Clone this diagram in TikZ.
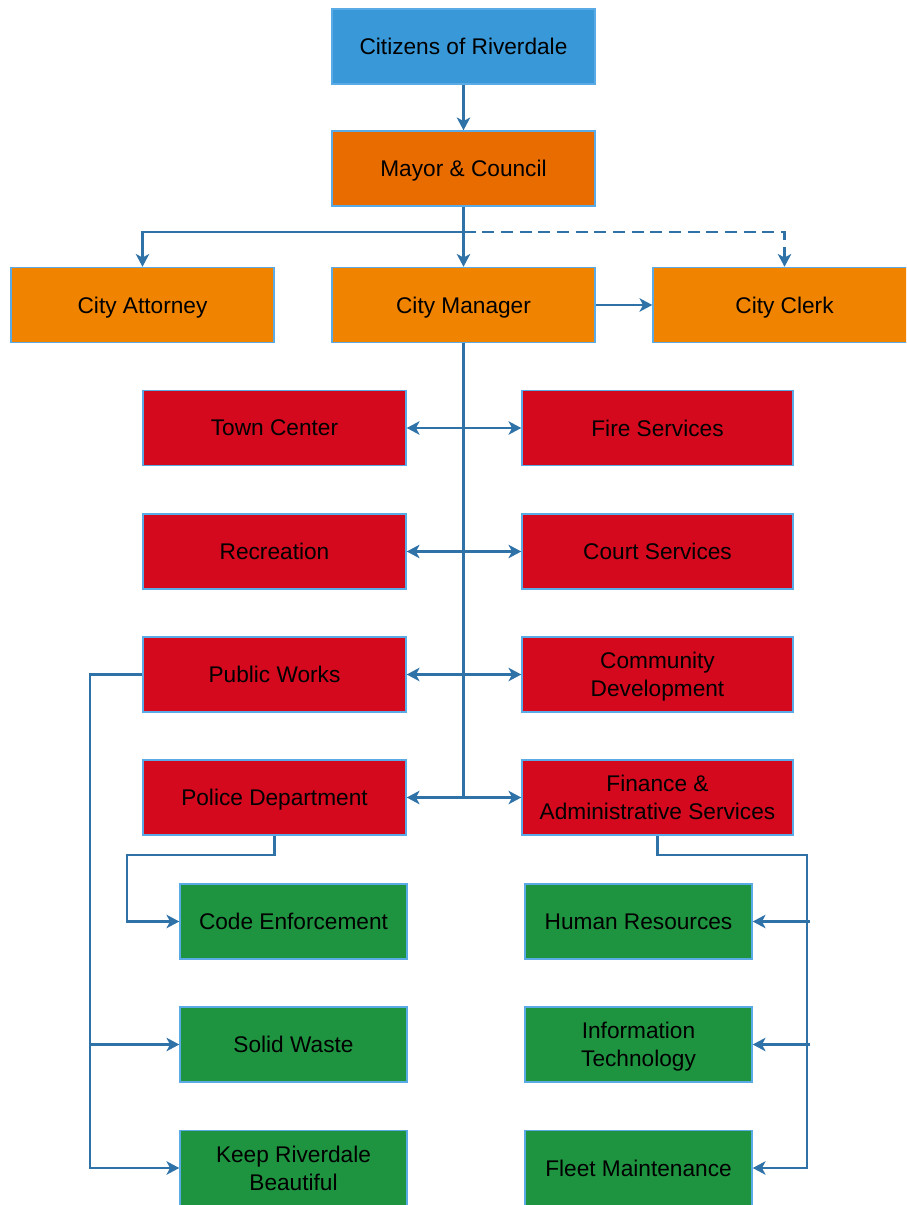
\documentclass[tikz,border=0pt]{standalone}
\usepackage{fontspec}
\setmainfont{Liberation Sans}
\usetikzlibrary{arrows.meta}
\definecolor{cblue}{HTML}{3898D8}
\definecolor{cmayor}{HTML}{E96C00}
\definecolor{corange}{HTML}{F08400}
\definecolor{cred}{HTML}{D5091E}
\definecolor{cgreen}{HTML}{1F9440}
\definecolor{cedge}{HTML}{5AAAE6}
\definecolor{cline}{HTML}{2E72A8}
\tikzset{
  box/.style={draw=cedge, line width=1.1pt, inner sep=0pt, align=center,
    font=\fontsize{17}{21}\selectfont, text=black, text depth=0pt},
  bx/.style={box, minimum width=197.25pt, minimum height=56.25pt},
  rbx/.style={box, minimum width=203.25pt, minimum height=56.25pt},
  gbx/.style={box, minimum width=170.25pt, minimum height=56.25pt, fill=cgreen},
  conn/.style={draw=cline, line width=1.6pt},
  arr/.style={conn, -{Stealth[length=9.5pt, width=10pt, inset=2.5pt]}},
}
\begin{document}
\begin{tikzpicture}[x=0.75pt, y=-0.75pt]
\useasboundingbox (0,0) rectangle (906,1205);
\clip (0,0) rectangle (906,1205);
% top
\node[bx, fill=cblue] (cz) at (463.5,46.5) {Citizens of Riverdale};
\node[bx, fill=cmayor] (mc) at (463.5,168.5) {Mayor \& Council};
\node[bx, fill=corange] (ca) at (142.5,305) {City Attorney};
\node[bx, fill=corange] (cm) at (463.5,305) {City Manager};
\node[bx, fill=corange] (cc) at (784.5,305) {City Clerk};
% red
\node[bx, fill=cred] (tc) at (274.5,428) {Town Center};
\node[rbx, fill=cred] (fs) at (657.5,428) {Fire Services};
\node[bx, fill=cred] (rc) at (274.5,551.5) {Recreation};
\node[rbx, fill=cred] (cs) at (657.5,551.5) {Court Services};
\node[bx, fill=cred] (pw) at (274.5,674.5) {Public Works};
\node[rbx, fill=cred] (cd) at (657.5,674.5) {Community\\Development};
\node[bx, fill=cred] (pd) at (274.5,797.5) {Police Department};
\node[rbx, fill=cred] (fa) at (657.5,797.5) {Finance \&\\Administrative Services};
% green
\node[gbx] (ce) at (293.5,921.5) {Code Enforcement};
\node[gbx] (sw) at (293.5,1044.5) {Solid Waste};
\node[gbx] (kr) at (293.5,1168) {Keep Riverdale\\Beautiful};
\node[gbx] (hr) at (638.5,921.5) {Human Resources};
\node[gbx] (it) at (638.5,1044.5) {Information\\Technology};
\node[gbx] (fm) at (638.5,1168) {Fleet Maintenance};
% coordinates
\coordinate (junc) at (463.5,232);
\coordinate (spine) at (463.5,798);
\coordinate (pl) at (90,675);
\coordinate (pdl) at (127,855);
\coordinate (fr) at (807,855);
\coordinate (fr2) at (810,855);
% connectors top
\draw[arr] (cz.south) -- (mc.north);
\draw[arr] (mc.south) -- (cm.north);
\draw[arr] (junc) -| (ca.north);
\draw[arr, dashed, dash pattern=on 9pt off 5pt] (junc) -| (cc.north);
\draw[arr] (cm.east) -- (cc.west);
% spine
\draw[conn] (cm.south) -- (spine);
\foreach \l/\r in {tc/fs, rc/cs, pw/cd, pd/fa}{
  \draw[arr] (spine |- \l.east) -- (\l.east);
  \draw[arr] (spine |- \r.west) -- (\r.west);
}
% public works
\draw[arr] (pw.west) -- (pw.west -| pl) |- (kr.west);
\draw[arr] (sw.west -| pl) -- (sw.west);
% police
\draw[arr] (pd.south) |- (pdl) |- (ce.west);
% finance
\draw[arr] (fa.south) |- (fr) |- (fm.east);
\draw[arr] (hr.east -| fr2) -- (hr.east);
\draw[arr] (it.east -| fr2) -- (it.east);
\end{tikzpicture}
\end{document}
